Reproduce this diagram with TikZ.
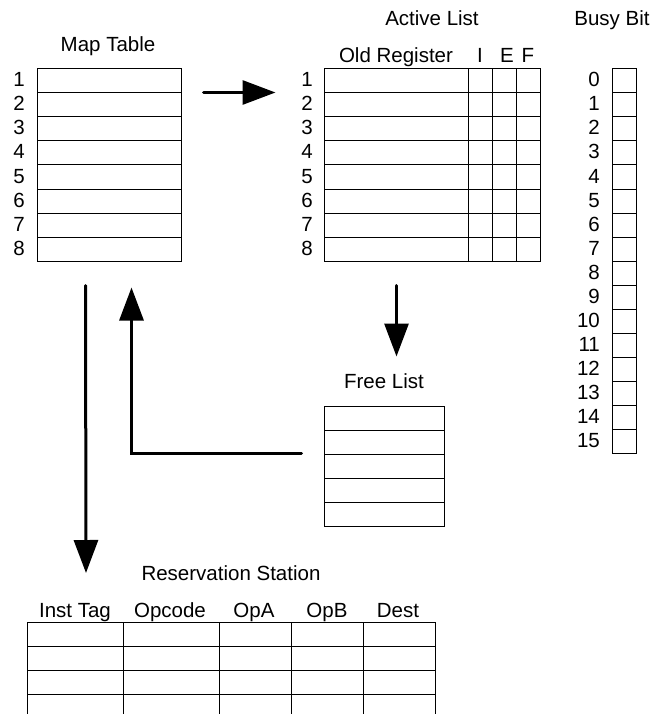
\documentclass[tikz,border=0pt]{standalone}
\usepackage{fontspec}
\setmainfont{Liberation Sans}
\usetikzlibrary{arrows.meta,calc}
\begin{document}
\begin{tikzpicture}[x=1pt,y=-1pt,
  every node/.style={font=\fontsize{20.5}{23}\selectfont, inner sep=0pt},
  tablebox/.style={draw, line width=1pt, rectangle, minimum width=#1},
  cell/.style={line width=1pt},
  label/.style={anchor=base},
  rowno/.style={anchor=base east},
  flow/.style={line width=3pt, line cap=round, -{Triangle[length=33pt,width=24pt]}},
]
\useasboundingbox (0,0) rectangle (664,714);

% Map table
\node[tablebox=144pt, minimum height=192pt] (map) at (109,165) {};
\foreach \r in {1,...,7} \draw[cell] (37,69+24*\r) -- (181,69+24*\r);
\foreach \r in {1,...,8} \node[rowno] (mapn\r) at (25,69-6+24*\r) {\r};
\node[label] (maptitle) at (108,52) {Map Table};

% Active list
\node[tablebox=216pt, minimum height=192pt] (active) at (432,165) {};
\foreach \r in {1,...,7} \draw[cell] (324,69+24*\r) -- (540,69+24*\r);
\foreach \c in {468,492,516} \draw[cell] (\c,69) -- (\c,261);
\foreach \r in {1,...,8} \node[rowno] (actn\r) at (313,69-6+24*\r) {\r};
\node[label] (acttitle) at (432,26) {Active List};
\node[label] (hold) at (396,63) {Old Register};
\node[label] (hi) at (480,63) {I};
\node[label] (he) at (507,63) {E};
\node[label] (hf) at (528,63) {F};

% Busy bits
\node[tablebox=24pt, minimum height=384pt] (busy) at (624,261) {};
\foreach \r in {1,...,15} \draw[cell] (612,69+24*\r) -- (636,69+24*\r);
\foreach \r in {0,...,15} \node[rowno] (busyn\r) at (600,69+18+24*\r) {\r};
\node[label] (busytitle) at (612,26) {Busy Bit};

% Free list
\node[tablebox=120pt, minimum height=120pt] (free) at (384,466) {};
\foreach \r in {1,...,4} \draw[cell] (324,406+24*\r) -- (444,406+24*\r);
\node[label] (freetitle) at (384,388) {Free List};

% Reservation station (open at the bottom)
\coordinate (rs) at (27,622);
\foreach \r in {0,...,3} \draw[cell] (27,622+24*\r) -- (435,622+24*\r);
\foreach \c in {27,123,219,291,363,435} \draw[cell] (\c,622) -- (\c,714);
\node[label] (rstitle) at (231,580) {Reservation Station};
\node[label] (rsh1) at (75,617) {Inst Tag};
\node[label] (rsh2) at (170,617) {Opcode};
\node[label] (rsh3) at (254,617) {OpA};
\node[label] (rsh4) at (327,617) {OpB};
\node[label] (rsh5) at (398,617) {Dest};

% Data-flow arrows
\draw[flow] ($(map.north east)+(22,24)$) -- ($(active.north west)+(-48,24)$);
\draw[flow] ($(active.south west)+(73,24)$) -- ($(free.north west)+(73,-49)$);
\draw[flow] ($(map.south west)+(49,24)$) -- ($(rs)+(59,-49)$);
\draw[flow] ($(free.west)+(-22,-13)$) -| ($(map.south west)+(95,26)$);
\end{tikzpicture}
\end{document}
